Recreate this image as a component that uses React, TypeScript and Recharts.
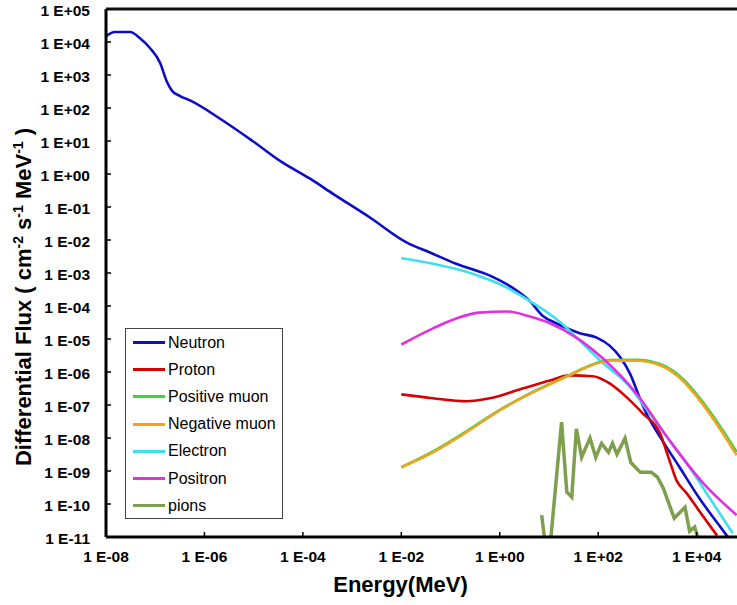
import React from 'react';
import { LineChart, Line, XAxis, YAxis, Legend, ReferenceLine } from 'recharts';

// [energy MeV, flux]
const neutron: [number, number][] = [
  [1e-8, 1.5e4], [1.5e-8, 2.0e4], [3.1e-8, 2.0e4], [4.9e-8, 1.3e4], [7.8e-8, 6.6e3],
  [1.26e-7, 2.3e3], [1.7e-7, 6.6e2], [2.2e-7, 3.3e2], [3.2e-7, 2.3e2], [5.1e-7, 1.7e2],
  [2.4e-6, 41], [9.5e-6, 10], [3.9e-5, 2.2], [1.4e-4, 0.72], [4.1e-4, 0.25],
  [2.3e-3, 4.8e-2], [1.3e-2, 8.3e-3], [3.8e-2, 4.2e-3], [0.13, 1.9e-3], [0.63, 8.3e-4],
  [1.8, 3.6e-4], [4.1, 1.4e-4], [7.4, 5.1e-5], [14, 3.0e-5], [42, 1.5e-5],
  [93, 1.1e-5], [170, 6.3e-6], [280, 2.8e-6], [440, 9.1e-7], [690, 1.7e-7],
  [950, 5.6e-8], [2.0e3, 8.5e-9], [4.5e3, 1.3e-9], [1.1e4, 1.6e-10], [3.4e4, 1.6e-11],
  [4.3e4, 1e-11],
];

const proton: [number, number][] = [
  [1e-2, 2.1e-7], [4.4e-2, 1.6e-7], [0.21, 1.3e-7], [0.63, 1.6e-7], [3.0, 3.2e-7],
  [10.5, 5.5e-7], [26, 7.9e-7], [78, 7.4e-7], [170, 4.5e-7], [380, 1.7e-7],
  [800, 5.6e-8], [1.8e3, 1.4e-8], [2.8e3, 2.1e-9], [3.9e3, 5.2e-10], [6.3e3, 2.1e-10],
  [1.1e4, 6.5e-11], [2.6e4, 1.1e-11],
];

const positiveMuon: [number, number][] = [
  [1e-2, 1.3e-9], [4.4e-2, 3.9e-9], [0.21, 1.6e-8], [1.0, 7.1e-8], [4.7, 2.5e-7],
  [26, 8.1e-7], [59, 1.45e-6], [170, 2.3e-6], [600, 2.35e-6], [1.8e3, 1.75e-6],
  [5.2e3, 6.3e-7], [1.3e4, 1.3e-7], [3.4e4, 1.7e-8], [6.5e4, 3.8e-9],
];

const negativeMuon: [number, number][] = [
  [1e-2, 1.3e-9], [4.4e-2, 3.7e-9], [0.21, 1.5e-8], [1.0, 6.9e-8], [4.7, 2.4e-7],
  [26, 7.9e-7], [59, 1.4e-6], [170, 2.2e-6], [600, 2.2e-6], [1.8e3, 1.6e-6],
  [5.2e3, 5.5e-7], [1.3e4, 1.1e-7], [3.4e4, 1.4e-8], [6.5e4, 3.0e-9],
];

const electron: [number, number][] = [
  [1e-2, 2.8e-3], [4.4e-2, 1.9e-3], [0.28, 9.5e-4], [1.4, 3.6e-4], [4.1, 1.4e-4],
  [17, 3.2e-5], [42, 8.9e-6], [123, 1.9e-6], [380, 4.5e-7], [1.1e3, 5.6e-8],
  [2.8e3, 8.5e-9], [6.3e3, 1.7e-9], [1.8e4, 1.6e-10], [5.4e4, 1.3e-11],
];

const positron: [number, number][] = [
  [1e-2, 6.8e-6], [4.4e-2, 2.1e-5], [0.13, 4.2e-5], [0.39, 6.3e-5], [1.4, 6.8e-5],
  [4.1, 4.8e-5], [10.5, 3.0e-5], [36, 1.1e-5], [123, 2.6e-6], [600, 2.2e-7],
  [2.8e3, 8.5e-9], [1.3e4, 4.6e-10], [6.5e4, 4.6e-11],
];

const pions: [number, number][] = [
  [7.1, 4.6e-11], [8.5, 5e-12], [10.5, 5e-12], [18, 3.0e-8], [23, 2.3e-10],
  [29, 1.6e-10], [36, 1.9e-8], [46, 2.6e-9], [68, 1.0e-8], [89, 2.6e-9],
  [117, 6.9e-9], [162, 3.7e-9], [195, 6.9e-9], [240, 3.2e-9], [350, 9.8e-9],
  [460, 1.8e-9], [720, 9.1e-10], [1.2e3, 9.1e-10], [1.6e3, 6.5e-10], [2.1e3, 3.0e-10],
  [3.5e3, 3.7e-11], [5.8e3, 7.9e-11], [7.2e3, 1.5e-11], [9.1e3, 2.0e-11], [1.05e4, 1e-11],
  [1.15e4, 5e-12],
];

const xTicks = [1e-8, 1e-6, 1e-4, 1e-2, 1, 1e2, 1e4];
const yTicks = [
  1e5, 1e4, 1e3, 1e2, 1e1, 1, 1e-1, 1e-2, 1e-3, 1e-4, 1e-5, 1e-6, 1e-7, 1e-8, 1e-9, 1e-10, 1e-11,
];

const toPts = (arr: [number, number][]) => arr.map(([x, y]) => ({ x, y }));

// legend order
const series = [
  { name: 'Neutron', color: '#0d0dc8', data: neutron },
  { name: 'Proton', color: '#d80000', data: proton },
  { name: 'Positive muon', color: '#3ed43e', data: positiveMuon },
  { name: 'Negative muon', color: '#eea321', data: negativeMuon },
  { name: 'Electron', color: '#3ee0ee', data: electron },
  { name: 'Positron', color: '#e030e0', data: positron },
  { name: 'pions', color: '#7f9f4f', data: pions },
];

// drawing order (last on top)
const drawOrder = ['pions', 'Neutron', 'Electron', 'Proton', 'Positive muon', 'Negative muon', 'Positron'];

const FONT = '"Liberation Sans", Arial, sans-serif';

const fmtExp = (v: number) => {
  const e = Math.round(Math.log10(v));
  const sign = e < 0 ? '-' : '+';
  return `1 E${sign}${String(Math.abs(e)).padStart(2, '0')}`;
};

const YTick = ({ x, y, payload }: any) => (
  <g>
    <line x1={x + 16} x2={x + 21} y1={y} y2={y} stroke="#000" strokeWidth={1.5} />
    <text x={x} y={y} dy={7} textAnchor="end" fontFamily={FONT} fontWeight="bold" fontSize={15.5} fill="#000">
      {fmtExp(payload.value)}
    </text>
  </g>
);

const XTick = ({ x, y, payload }: any) => (
  <g>
    <line x1={x} x2={x} y1={y - 10} y2={y - 15} stroke="#000" strokeWidth={1.5} />
    <text x={x} y={y} dy={15} textAnchor="middle" fontFamily={FONT} fontWeight="bold" fontSize={15.5} fill="#000">
      {fmtExp(payload.value)}
    </text>
  </g>
);

const XTitle = (props: any) => {
  const vb = props.viewBox || { x: 106, width: 631, y: 537 };
  return (
    <text x={vb.x + vb.width / 2 - 21} y={592} textAnchor="middle" fontFamily={FONT} fontWeight="bold" fontSize={22} fill="#000">
      Energy(MeV)
    </text>
  );
};

const YTitle = () => (
  <text transform="rotate(-90)" x={-297} y={31} textAnchor="middle" fontFamily={FONT} fontWeight="bold" fontSize={22} fill="#000">
    <tspan>Differential Flux ( cm</tspan>
    <tspan dy={-8} fontSize={14}>-2</tspan>
    <tspan dy={8}> s</tspan>
    <tspan dy={-8} fontSize={14}>-1</tspan>
    <tspan dy={8}> MeV</tspan>
    <tspan dy={-8} fontSize={14}>-1</tspan>
    <tspan dy={8}> )</tspan>
  </text>
);

const LegendBox = () => (
  <div
    style={{
      width: 158,
      height: 191,
      boxSizing: 'border-box',
      border: '1px solid #444',
      background: '#fff',
      fontFamily: FONT,
      fontSize: 16,
      color: '#000',
    }}
  >
    {series.map((s) => (
      <div key={s.name} style={{ height: 27.2, display: 'flex', alignItems: 'center' }}>
        <span style={{ display: 'inline-block', width: 32, height: 3, background: s.color, marginLeft: 7, marginRight: 3 }} />
        <span>{s.name}</span>
      </div>
    ))}
  </div>
);

export default function App() {
  const ordered = drawOrder.map((n) => series.find((s) => s.name === n)!);
  return (
    <div style={{ position: 'absolute', left: 0, top: 0, width: 737, height: 605, overflow: 'hidden', background: '#fff' }}>
      <LineChart width={737} height={605} margin={{ top: 9, right: 0, bottom: 0, left: 0 }}>
        <XAxis
          dataKey="x"
          type="number"
          scale="log"
          domain={[1e-8, 6.6e4]}
          ticks={xTicks}
          allowDataOverflow
          height={68}
          tickSize={0}
          tickMargin={10}
          tick={<XTick />}
          axisLine={{ stroke: '#000', strokeWidth: 3 }}
          label={<XTitle />}
        />
        <YAxis
          type="number"
          scale="log"
          domain={[1e-11, 1e5]}
          ticks={yTicks}
          allowDataOverflow
          width={106}
          tickSize={0}
          tickMargin={16}
          tick={<YTick />}
          interval={0}
          axisLine={{ stroke: '#000', strokeWidth: 3 }}
          label={<YTitle />}
        />
        <ReferenceLine y={1e5} stroke="#111" strokeWidth={3} ifOverflow="visible" />
        {ordered.map((s) => (
          <Line
            key={s.name}
            name={s.name}
            data={toPts(s.data)}
            dataKey="y"
            type={s.name === 'pions' ? 'linear' : 'monotone'}
            stroke={s.color}
            strokeWidth={s.name === 'pions' ? 3.5 : 2.6}
            dot={false}
            isAnimationActive={false}
          />
        ))}
        <Legend
          layout="vertical"
          align="center"
          verticalAlign="middle"
          content={<LegendBox />}
          wrapperStyle={{ left: 125, top: 328, width: 158, height: 191 }}
        />
      </LineChart>
    </div>
  );
}
